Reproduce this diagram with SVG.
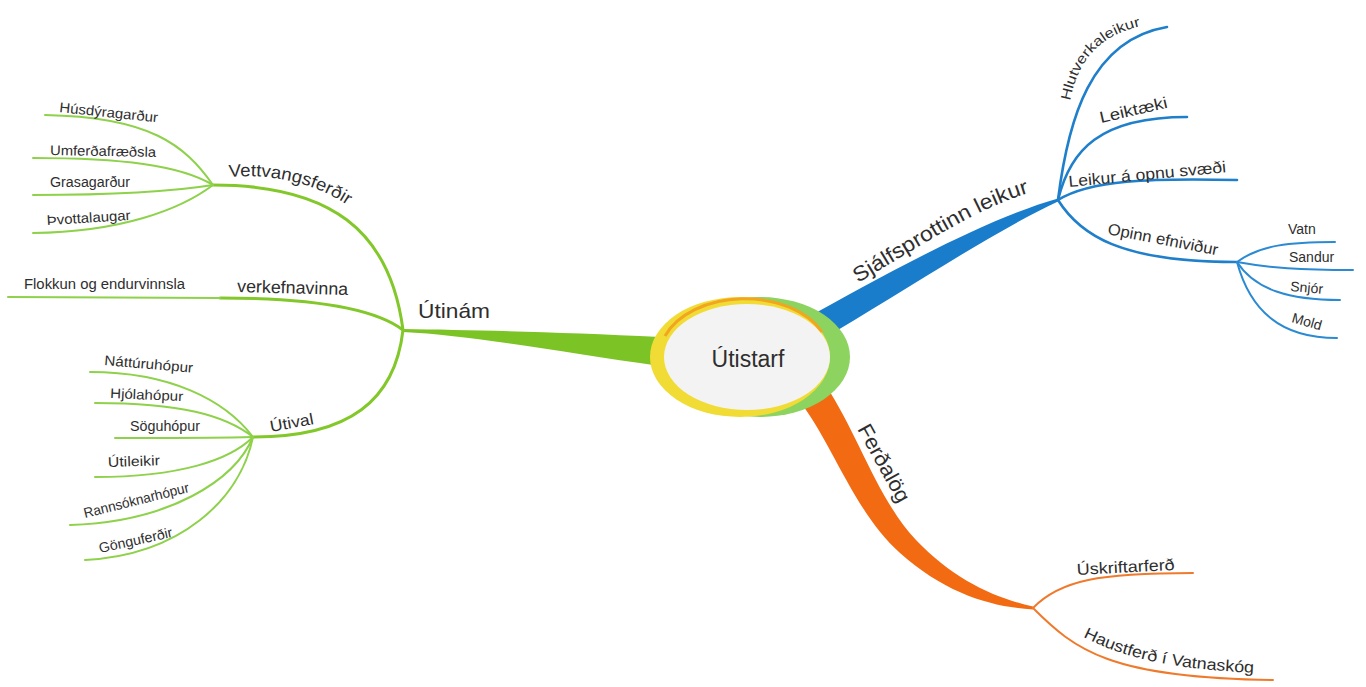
<svg xmlns="http://www.w3.org/2000/svg" width="1366" height="687" viewBox="0 0 1366 687">
<defs>
<style>
text { font-family: "Liberation Sans", Arial, sans-serif; fill: #2e2e2e; }
.l1 { font-size: 21px; }
.l2 { font-size: 17.5px; }
.l3 { font-size: 16px; }
.lf { font-size: 14px; }
.g2 { fill: none; stroke: #82c82a; stroke-width: 3; stroke-linecap: round; }
.g3 { fill: none; stroke: #8ed14a; stroke-width: 2; stroke-linecap: round; }
.b2 { fill: none; stroke: #1f7fcb; stroke-width: 2.6; stroke-linecap: round; }
.b3 { fill: none; stroke: #2b8ad2; stroke-width: 2; stroke-linecap: round; }
.o3 { fill: none; stroke: #f07a2c; stroke-width: 2; stroke-linecap: round; }
</style>
<path id="tp-vett" d="M229,177 C275,173 320,184 356,211"/>
<path id="tp-sjalf" d="M858,283 C930,240 990,200 1045,189"/>
<path id="tp-hlut" d="M1070,101 C1078,60 1100,32 1152,24"/>
<path id="tp-haust" d="M1083,637 C1120,655 1160,669 1260,673"/>
</defs>
<rect width="1366" height="687" fill="#ffffff"/>

<g id="connectors">
  <path fill="#7cc425" d="M660,337 C560,332 470,330 403,329 L403,332 C470,335 560,352 660,366 Z"/>
  <path fill="#1a7dcc" d="M805,319 C885,274 988,218 1058,198.5 L1058,201.5 C992,232 897,296 819,341 Z"/>
  <path fill="#f26b12" d="M826,386 C857,432 878,500 916,540 C954,580 995,598 1033,606.5 L1033,609.5 C992,607 946,594 900,553 C854,512 832,442 798,399 Z"/>
  <path class="g2" d="M403,330 C390,230 330,185 213,185"/>
  <path class="g2" d="M403,330 C370,305 300,298 220,298"/>
  <path class="g3" d="M220,298 L8,297"/>
  <path class="g2" d="M403,330 C395,400 350,437 253,437"/>
  <path class="g3" d="M213,185 C185,145 150,117 45,115"/>
  <path class="g3" d="M213,185 C180,165 120,158 33,158"/>
  <path class="g3" d="M213,185 C170,192 100,195 33,195"/>
  <path class="g3" d="M213,185 C180,210 120,232 33,233"/>
  <path class="g3" d="M253,437 C225,400 170,372 90,372"/>
  <path class="g3" d="M253,437 C225,415 180,403 95,403"/>
  <path class="g3" d="M253,437 C220,438 170,438 115,438"/>
  <path class="g3" d="M253,437 C230,460 180,477 95,477"/>
  <path class="g3" d="M253,437 C235,480 170,522 70,525"/>
  <path class="g3" d="M253,437 C240,500 180,555 85,560"/>
  <path class="b2" d="M1058,200 C1068,120 1090,40 1167,27"/>
  <path class="b2" d="M1058,200 C1070,150 1100,117 1187,117"/>
  <path class="b2" d="M1058,200 C1090,180 1150,178 1237,180"/>
  <path class="b2" d="M1058,200 C1080,235 1120,262 1237,262"/>
  <path class="b3" d="M1237,262 C1260,245 1290,242 1335,242"/>
  <path class="b3" d="M1237,262 C1270,268 1300,270 1353,270"/>
  <path class="b3" d="M1237,262 C1255,290 1290,300 1340,300"/>
  <path class="b3" d="M1237,262 C1250,310 1280,338 1337,338"/>
  <path class="o3" d="M1033,608 C1060,580 1100,573 1193,573"/>
  <path class="o3" d="M1033,608 C1075,650 1110,678 1273,680"/>
</g>

<g id="node-utistarf">
  <ellipse cx="760" cy="357" rx="90" ry="60" fill="#8dd35f"/>
  <ellipse cx="740" cy="357" rx="90" ry="60" fill="#f1dc36"/>
  <ellipse cx="747" cy="357" rx="83" ry="53" fill="#f3f3f3"/>
  <path d="M665,336 A85,57 0 0 1 822,332" fill="none" stroke="#f2a51e" stroke-width="3"/>
  <text x="748" y="367" text-anchor="middle" font-size="23">Útistarf</text>
</g>

<g id="node-utinam"><text class="l1" x="418" y="318" textLength="72" lengthAdjust="spacingAndGlyphs">Útinám</text></g>
<g id="node-vettvangsferdir"><text class="l2"><textPath href="#tp-vett" textLength="124" lengthAdjust="spacingAndGlyphs">Vettvangsferðir</textPath></text></g>
<g id="node-husdyragardur"><text class="lf" transform="translate(59,112) rotate(6)" textLength="99" lengthAdjust="spacingAndGlyphs">Húsdýragarður</text></g>
<g id="node-umferdafraedsla"><text class="lf" transform="translate(50,155) rotate(1)" textLength="106" lengthAdjust="spacingAndGlyphs">Umferðafræðsla</text></g>
<g id="node-grasagardur"><text class="lf" x="50" y="187" textLength="80" lengthAdjust="spacingAndGlyphs">Grasagarður</text></g>
<g id="node-thvottalaugar"><text class="lf" transform="translate(47,225) rotate(-3.5)" textLength="84" lengthAdjust="spacingAndGlyphs">Þvottalaugar</text></g>
<g id="node-verkefnavinna"><text class="l2" transform="translate(237,292) rotate(1.5)" textLength="111" lengthAdjust="spacingAndGlyphs">verkefnavinna</text></g>
<g id="node-flokkun"><text class="lf" x="24" y="289" textLength="161" lengthAdjust="spacingAndGlyphs">Flokkun og endurvinnsla</text></g>
<g id="node-utival"><text class="l3" transform="translate(271,432) rotate(-10.5)" textLength="44" lengthAdjust="spacingAndGlyphs">Útival</text></g>
<g id="node-natturuhopur"><text class="lf" transform="translate(104,365) rotate(5)" textLength="89" lengthAdjust="spacingAndGlyphs">Náttúruhópur</text></g>
<g id="node-hjolahopur"><text class="lf" transform="translate(110,398) rotate(2.5)" textLength="73" lengthAdjust="spacingAndGlyphs">Hjólahópur</text></g>
<g id="node-soguhopur"><text class="lf" x="130" y="431" textLength="70" lengthAdjust="spacingAndGlyphs">Söguhópur</text></g>
<g id="node-utileikir"><text class="lf" transform="translate(108,467) rotate(-2)" textLength="52" lengthAdjust="spacingAndGlyphs">Útileikir</text></g>
<g id="node-rannsoknarhopur"><text class="lf" transform="translate(85,518) rotate(-14)" textLength="108" lengthAdjust="spacingAndGlyphs">Rannsóknarhópur</text></g>
<g id="node-gonguferdir"><text class="lf" transform="translate(100,553) rotate(-12.5)" textLength="75" lengthAdjust="spacingAndGlyphs">Gönguferðir</text></g>

<g id="node-sjalfsprottinn"><text class="l1"><textPath href="#tp-sjalf" textLength="194" lengthAdjust="spacingAndGlyphs">Sjálfsprottinn leikur</textPath></text></g>
<g id="node-hlutverkaleikur"><text class="lf" font-size="15"><textPath href="#tp-hlut" textLength="110" lengthAdjust="spacingAndGlyphs">Hlutverkaleikur</textPath></text></g>
<g id="node-leiktaeki"><text class="l3" transform="translate(1101,123) rotate(-13)" textLength="69" lengthAdjust="spacingAndGlyphs">Leiktæki</text></g>
<g id="node-leikur-opnu"><text class="l3" transform="translate(1069,187) rotate(-5.4)" textLength="158" lengthAdjust="spacingAndGlyphs">Leikur á opnu svæði</text></g>
<g id="node-opinn"><text class="l3" transform="translate(1107,234) rotate(11)" textLength="112" lengthAdjust="spacingAndGlyphs">Opinn efniviður</text></g>
<g id="node-vatn"><text class="lf" x="1288" y="234">Vatn</text></g>
<g id="node-sandur"><text class="lf" x="1289" y="262">Sandur</text></g>
<g id="node-snjor"><text class="lf" transform="translate(1290,291) rotate(5)">Snjór</text></g>
<g id="node-mold"><text class="lf" transform="translate(1291,322) rotate(16)">Mold</text></g>

<g id="node-ferdalog"><text class="l1" transform="translate(857,429) rotate(61)" textLength="86" lengthAdjust="spacingAndGlyphs">Ferðalög</text></g>
<g id="node-uskriftarferd"><text class="l3" transform="translate(1077,575) rotate(-3)" textLength="98" lengthAdjust="spacingAndGlyphs">Úskriftarferð</text></g>
<g id="node-haustferd"><text class="l3"><textPath href="#tp-haust" textLength="176" lengthAdjust="spacingAndGlyphs">Haustferð í Vatnaskóg</textPath></text></g>
</svg>
